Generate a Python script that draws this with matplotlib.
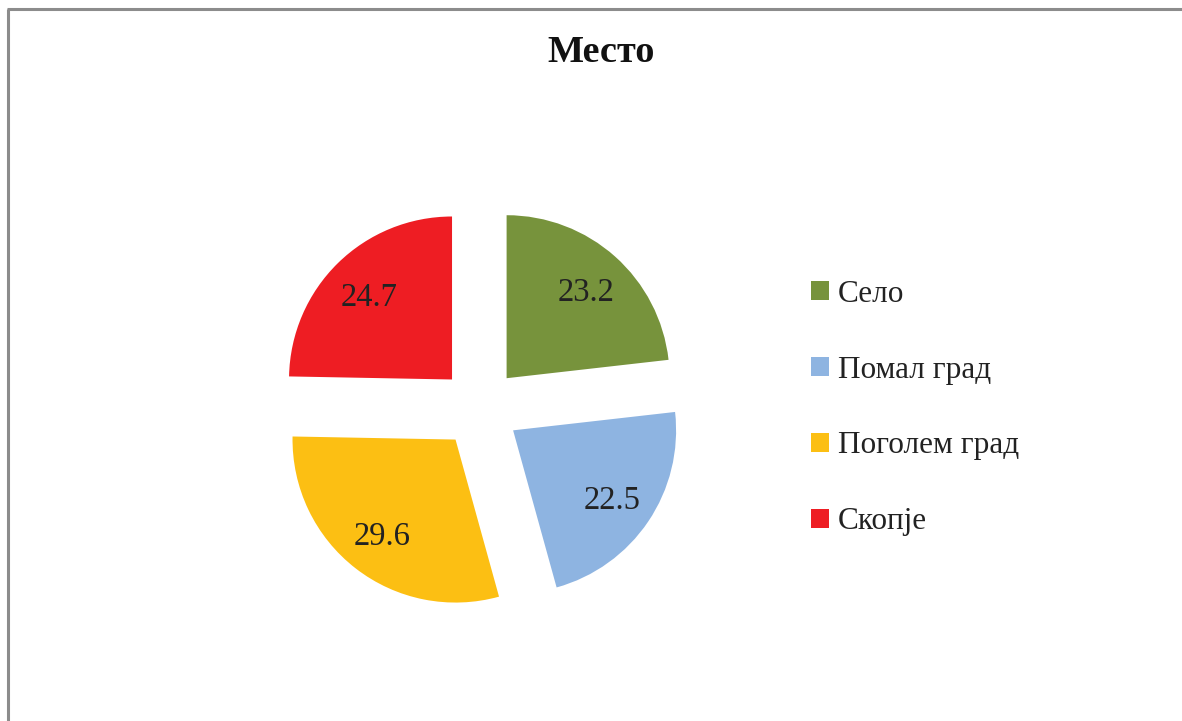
import matplotlib
matplotlib.use("Agg")
import matplotlib.pyplot as plt
from matplotlib.lines import Line2D
from matplotlib.patches import Patch

categories = ["Село", "Помал град", "Поголем град", "Скопје"]
values = [23.2, 22.5, 29.6, 24.7]
colors = ["#77933C", "#8EB4E1", "#FCBF13", "#EE1D23"]
title = "Место"

plt.rcParams['font.family'] = ['Liberation Serif', 'DejaVu Serif']

W, H = 1182, 721
fig = plt.figure(figsize=(W / 100, H / 100), dpi=100)
fig.patch.set_facecolor("white")

# frame (left and top edges visible)
fig.add_artist(Line2D([8 / W, 8 / W], [0, 1 - 9 / H], transform=fig.transFigure,
                      color="#8C8C8C", lw=2.2, solid_capstyle="butt"))
fig.add_artist(Line2D([7 / W, 1], [1 - 9 / H, 1 - 9 / H], transform=fig.transFigure,
                      color="#8C8C8C", lw=2.2, solid_capstyle="butt"))

# pie axes: center at (480, 408) px, radius 163 px
cx, cy, R = 480, 408, 163
half = 260
ax = fig.add_axes([(cx - half) / W, (H - cy - half) / H, 2 * half / W, 2 * half / H])
lim = half / R

wedges, texts, autotexts = ax.pie(
    values, colors=colors, startangle=90, counterclock=False,
    explode=[0.245] * len(values), radius=1.0,
    autopct=lambda p: f"{p:.1f}", pctdistance=0.73,
    wedgeprops=dict(linewidth=0),
    textprops=dict(fontsize=23.5, color="#222222"),
)
for t in autotexts:
    t.set_verticalalignment("center_baseline")
ax.set_xlim(-lim, lim)
ax.set_ylim(-lim, lim)
ax.set_aspect("equal")
ax.axis("off")

fig.text(601 / W, 1 - 52 / H, title, ha="center", va="center",
         fontsize=27.5, fontweight="bold", color="#111111")

handles = [Patch(facecolor=c, edgecolor="none") for c in colors]
leg = fig.legend(handles, categories, loc="center left",
                 bbox_to_anchor=(795 / W, 1 - 408 / H), frameon=False,
                 fontsize=22.5, labelspacing=1.5, handlelength=0.58,
                 handleheight=0.58, handletextpad=0.3, borderpad=0)
for t in leg.get_texts():
    t.set_color("#222222")

fig.savefig("out.png", dpi=100, facecolor="white")
